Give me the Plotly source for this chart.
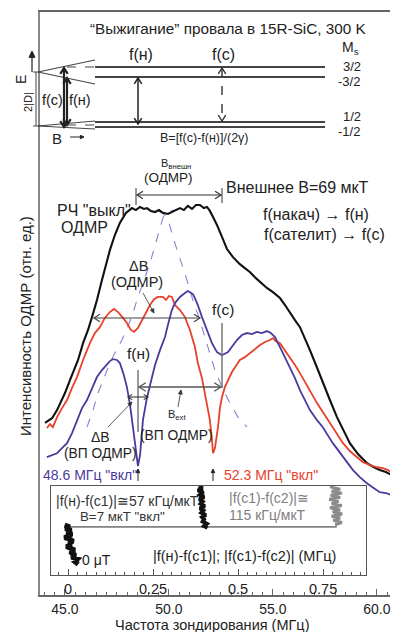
import math
import plotly.graph_objects as go

FONT = "Arial, Liberation Sans, sans-serif"

# ---------------- data (frequency in MHz, ODMR intensity in rel. units) ----------------
black_f = [44.04, 44.38, 44.62, 44.86, 45.00, 45.24, 45.38, 45.63, 45.87, 46.11, 46.30, 46.54, 46.78, 46.97,
           47.16, 47.40, 47.64, 47.93, 48.22, 48.41, 48.61, 48.80, 48.94, 49.13, 49.33, 49.52, 49.71, 49.95,
           50.14, 50.34, 50.53, 50.72, 50.91, 51.11, 51.30, 51.49, 51.68, 51.83, 51.97, 52.12, 52.31, 52.55,
           52.79, 53.08, 53.41, 53.65, 53.89, 54.18, 54.42, 54.71, 55.00, 55.34, 55.58, 55.82, 56.06, 56.30,
           56.54, 56.78, 57.07, 57.40, 57.74, 58.08, 58.37, 58.70, 59.09, 59.52, 59.86, 60.14, 60.43, 60.72]
black_i = [0.204, 0.221, 0.250, 0.286, 0.311, 0.357, 0.382, 0.429, 0.489, 0.536, 0.582, 0.643, 0.714, 0.768,
           0.821, 0.875, 0.918, 0.954, 0.971, 0.964, 0.975, 0.968, 0.971, 0.961, 0.957, 0.964, 0.954, 0.950,
           0.957, 0.964, 0.971, 0.964, 0.979, 0.968, 0.982, 0.982, 0.971, 0.975, 0.961, 0.939, 0.911, 0.868,
           0.825, 0.796, 0.771, 0.757, 0.743, 0.721, 0.704, 0.686, 0.671, 0.650, 0.625, 0.596, 0.571, 0.546,
           0.507, 0.464, 0.411, 0.346, 0.286, 0.225, 0.179, 0.132, 0.093, 0.061, 0.046, 0.036, 0.029, 0.018]

red_f = [44.13, 44.28, 44.42, 44.62, 44.86, 45.10, 45.34, 45.58, 45.87, 46.20, 46.44, 46.68, 46.92, 47.16,
         47.36, 47.55, 47.79, 47.98, 48.17, 48.32, 48.51, 48.70, 48.85, 49.09, 49.28, 49.47, 49.71, 49.86,
         50.00, 50.14, 50.29, 50.53, 50.77, 51.01, 51.25, 51.39, 51.59, 51.73, 51.88, 51.97, 52.07, 52.12,
         52.21, 52.36, 52.45, 52.55, 52.69, 52.84, 53.03, 53.22, 53.41, 53.65, 53.89, 54.14, 54.38, 54.62,
         54.86, 55.00, 55.14, 55.34, 55.58, 55.82, 56.06, 56.30, 56.54, 56.78, 57.12, 57.50, 57.88, 58.37,
         58.70, 59.04, 59.33, 59.66, 60.00, 60.29, 60.53, 60.72]
red_i = [0.186, 0.200, 0.189, 0.225, 0.257, 0.286, 0.329, 0.368, 0.429, 0.489, 0.525, 0.546, 0.579, 0.600,
         0.611, 0.600, 0.579, 0.561, 0.536, 0.529, 0.543, 0.571, 0.589, 0.625, 0.646, 0.654, 0.654, 0.643,
         0.657, 0.654, 0.625, 0.607, 0.582, 0.536, 0.475, 0.418, 0.364, 0.311, 0.257, 0.214, 0.143, 0.096,
         0.114, 0.189, 0.257, 0.296, 0.332, 0.357, 0.386, 0.407, 0.429, 0.439, 0.454, 0.468, 0.482, 0.493,
         0.500, 0.507, 0.496, 0.489, 0.464, 0.439, 0.411, 0.382, 0.350, 0.321, 0.275, 0.232, 0.189, 0.132,
         0.104, 0.082, 0.064, 0.054, 0.046, 0.043, 0.036, 0.025]

blue_f = [44.13, 44.38, 44.62, 44.86, 45.10, 45.34, 45.58, 45.82, 46.06, 46.30, 46.54, 46.78, 47.02, 47.16,
          47.31, 47.50, 47.64, 47.83, 47.98, 48.13, 48.27, 48.41, 48.51, 48.61, 48.75, 48.94, 49.09, 49.33,
          49.57, 49.81, 49.95, 50.14, 50.29, 50.53, 50.77, 50.91, 51.01, 51.15, 51.25, 51.39, 51.59, 51.83,
          52.07, 52.31, 52.55, 52.84, 53.03, 53.27, 53.51, 53.75, 54.00, 54.23, 54.47, 54.71, 54.90, 55.10,
          55.34, 55.58, 55.82, 56.06, 56.30, 56.54, 56.78, 57.12, 57.40, 57.88, 58.37, 58.85, 59.18, 59.52,
          59.86, 60.14, 60.43, 60.72]
blue_i = [0.082, 0.089, 0.096, 0.114, 0.132, 0.168, 0.214, 0.257, 0.286, 0.329, 0.368, 0.393, 0.411, 0.425,
          0.432, 0.429, 0.418, 0.375, 0.332, 0.268, 0.189, 0.107, 0.050, 0.089, 0.214, 0.293, 0.339, 0.411,
          0.464, 0.511, 0.554, 0.607, 0.632, 0.654, 0.668, 0.675, 0.671, 0.664, 0.650, 0.625, 0.582, 0.536,
          0.489, 0.457, 0.446, 0.457, 0.475, 0.500, 0.518, 0.525, 0.521, 0.529, 0.525, 0.532, 0.525, 0.511,
          0.475, 0.439, 0.404, 0.364, 0.321, 0.286, 0.250, 0.214, 0.189, 0.132, 0.082, 0.036, 0.011, -0.011,
          -0.029, -0.043, -0.046, -0.054]

# dashed guide halves (two partial ODMR components)
guide_left_f = [46.06, 46.35, 46.59, 46.88, 47.16, 47.45, 47.74, 48.03, 48.27, 48.46, 48.70, 48.89, 49.09,
                49.28, 49.42, 49.57, 49.71, 49.90, 50.10, 50.29]
guide_left_i = [0.189, 0.250, 0.311, 0.364, 0.418, 0.461, 0.500, 0.550, 0.596, 0.643, 0.689, 0.732, 0.775,
                0.825, 0.868, 0.904, 0.936, 0.954, 0.961, 0.964]
guide_right_f = [49.47, 49.66, 49.90, 50.05, 50.19, 50.38, 50.63, 50.82, 51.01, 51.20, 51.44, 51.63, 51.83,
                 52.02, 52.21, 52.55, 52.93, 53.32, 53.75]
guide_right_i = [0.961, 0.954, 0.939, 0.907, 0.868, 0.825, 0.775, 0.725, 0.679, 0.629, 0.582, 0.536, 0.489,
                 0.439, 0.393, 0.332, 0.275, 0.225, 0.189]

# inset: frequency differences (MHz) vs. time (rel.)
blob0_x = [-0.010, 0.005, -0.008, 0.010, -0.004, 0.012, 0.000, -0.010, 0.008, 0.015, 0.002, 0.010, -0.005,
           0.012, 0.020, 0.006, 0.014, 0.022, 0.010, 0.028, 0.020, 0.030]
blob0_y = [0.56, 0.54, 0.52, 0.50, 0.48, 0.46, 0.44, 0.42, 0.40, 0.38, 0.36, 0.34, 0.32, 0.30, 0.28, 0.26,
           0.24, 0.22, 0.20, 0.18, 0.15, 0.12]
blob1_x = [0.385, 0.395, 0.382, 0.398, 0.388, 0.400, 0.386, 0.396, 0.390, 0.402, 0.388, 0.398, 0.392,
           0.405, 0.394, 0.400, 0.396, 0.408, 0.400, 0.410]
blob1_y = [1.00, 0.975, 0.95, 0.925, 0.90, 0.875, 0.85, 0.825, 0.80, 0.775, 0.75, 0.725, 0.70, 0.675, 0.65,
           0.625, 0.60, 0.575, 0.55, 0.53]
blob2_x = [0.770, 0.800, 0.775, 0.805, 0.772, 0.800, 0.768, 0.795, 0.775, 0.805, 0.770, 0.800, 0.778,
           0.806, 0.775, 0.800, 0.780, 0.805, 0.785]
blob2_y = [0.99, 0.965, 0.94, 0.92, 0.895, 0.87, 0.85, 0.825, 0.80, 0.78, 0.755, 0.73, 0.71, 0.685, 0.66,
           0.64, 0.615, 0.59, 0.565]
step_x = [-0.01, 0.79]
step_y = [0.54, 0.54]

main_tick_vals = [45, 50, 55, 60]
main_tick_text = ["45.0", "50.0", "55.0", "60.0"]
inset_tick_vals = [0, 0.25, 0.5, 0.75]
inset_tick_text = ["0", "0.25", "0.5", "0.75"]

# ---------------- colors ----------------
C_BLACK = "#111111"
C_RED = "#e8402a"
C_BLUE = "#4b3a9e"
C_DASH = "#8a80d2"

# ---------------- layout geometry (pixel helpers for decorations) ----------------
W, H = 401, 632
ML, MR, MT, MB = 40, 11, 12, 37
PW, PH = W - ML - MR, H - MT - MB


def px(x):
    return (x - ML) / PW


def py(y):
    return (H - MB - y) / PH


shapes = []
annotations = []


def seg(x0, y0, x1, y1, color="#333", w=1.2, dash="solid"):
    shapes.append(dict(type="line", xref="paper", yref="paper", x0=px(x0), y0=py(y0), x1=px(x1), y1=py(y1),
                       line=dict(color=color, width=w, dash=dash)))


def head(tx, ty, fx, fy, color="#333", w=1.2, L=6.0, ang=32, filled=False):
    dx, dy = fx - tx, fy - ty
    n = math.hypot(dx, dy)
    dx, dy = dx / n, dy / n
    pts = []
    for s in (1, -1):
        a = math.radians(ang) * s
        rx = dx * math.cos(a) - dy * math.sin(a)
        ry = dx * math.sin(a) + dy * math.cos(a)
        pts.append((tx + rx * L, ty + ry * L))
    path = "M %f,%f L %f,%f L %f,%f" % (px(pts[0][0]), py(pts[0][1]), px(tx), py(ty), px(pts[1][0]), py(pts[1][1]))
    if filled:
        path += " Z"
    shapes.append(dict(type="path", xref="paper", yref="paper", path=path,
                       line=dict(color=color, width=w),
                       fillcolor=color if filled else "rgba(0,0,0,0)"))


def darrow(x0, y0, x1, y1, color="#333", w=1.2, dash="solid", L=6.0):
    seg(x0, y0, x1, y1, color, w, dash)
    head(x0, y0, x1, y1, color, w, L)
    head(x1, y1, x0, y0, color, w, L)


def pointer(x0, y0, x1, y1, color="#333", w=0.8, L=4.5):
    seg(x0, y0, x1, y1, color, w)
    head(x1, y1, x0, y0, color, w, L, ang=25, filled=True)


def ann(text, x, y, size=15, color="#222", xanchor="center", angle=0):
    annotations.append(dict(text=text, x=px(x), y=py(y), xref="paper", yref="paper", showarrow=False,
                            font=dict(size=size, color=color, family=FONT), xanchor=xanchor,
                            yanchor="middle", textangle=angle))


# ---------------- traces ----------------
fig = go.Figure()
fig.add_trace(go.Scatter(x=guide_left_f, y=guide_left_i, mode="lines",
                         line=dict(color=C_DASH, width=1.1, dash="dash"), showlegend=False))
fig.add_trace(go.Scatter(x=guide_right_f, y=guide_right_i, mode="lines",
                         line=dict(color=C_DASH, width=1.1, dash="dash"), showlegend=False))
fig.add_trace(go.Scatter(x=black_f, y=black_i, mode="lines", line=dict(color=C_BLACK, width=2.1), showlegend=False))
fig.add_trace(go.Scatter(x=red_f, y=red_i, mode="lines", line=dict(color=C_RED, width=1.8), showlegend=False))
fig.add_trace(go.Scatter(x=blue_f, y=blue_i, mode="lines", line=dict(color=C_BLUE, width=1.8), showlegend=False))

# inset
fig.add_trace(go.Scatter(x=step_x, y=step_y, xaxis="x2", yaxis="y2", mode="lines",
                         line=dict(color="#222", width=1), showlegend=False))
fig.add_trace(go.Scatter(x=blob0_x, y=blob0_y, xaxis="x2", yaxis="y2", mode="lines",
                         line=dict(color="#111", width=5), showlegend=False))
fig.add_trace(go.Scatter(x=blob1_x, y=blob1_y, xaxis="x2", yaxis="y2", mode="lines",
                         line=dict(color="#111", width=4), showlegend=False))
fig.add_trace(go.Scatter(x=blob2_x, y=blob2_y, xaxis="x2", yaxis="y2", mode="lines",
                         line=dict(color="#8c8c8c", width=3), showlegend=False))

shapes.append(dict(type="rect", xref="x2 domain", yref="y2 domain", x0=0, x1=1, y0=0, y1=1,
                   fillcolor="#e6e6e6", line=dict(width=0), layer="below"))

# ---------------- energy level diagram ----------------
LC = "#444"
for yy in (67, 77, 122, 127):
    seg(95, yy, 325, yy, LC, 2)
seg(67, 67, 95, 67, LC, 1.2, "dash")
seg(67, 125, 95, 125, LC, 1.2, "dash")
seg(38, 72, 95, 60, LC, 1.2)
seg(38, 72, 95, 84, LC, 1.2)
seg(38, 126, 95, 121, LC, 1.2)
seg(38, 126, 95, 129, LC, 1.2)
seg(36, 72, 36, 126, LC, 1)
seg(33, 72, 40, 72, LC, 1)
seg(33, 126, 40, 126, LC, 1)
seg(32, 72, 32, 57, "#222", 1.2)
head(32, 51, 32, 60, "#222", 1, 7, 25, filled=True)
darrow(64, 68, 64, 127, "#222", 2.2, L=7)
darrow(67, 78, 67, 125, "#222", 2.2, L=7)
darrow(138, 78, 138, 124, "#222", 1.5, L=7)
darrow(222, 68, 222, 121, "#333", 1.4, "dash", L=7)
seg(70, 137, 82, 137, "#222", 1)
head(84, 137, 78, 137, "#222", 1, 4, 25, filled=True)

ann("“Выжигание” провала в 15R-SiC, 300 K", 228, 28, 15.3)
ann("f(н)", 141, 54, 16)
ann("f(c)", 223, 54, 16)
ann("M<sub>s</sub>", 350, 48, 14)
ann("3/2", 352, 66.5, 13)
ann("-3/2", 349, 82, 13)
ann("1/2", 352, 116, 13)
ann("-1/2", 349, 131.5, 13)
ann("f(c)", 52, 100, 14.5)
ann("f(н)", 80, 100, 14.5)
ann("2|D|", 28, 102, 11, angle=-90)
ann("E", 21, 80, 14, angle=-90)
ann("B", 57, 138, 15)
ann("B=[f(c)-f(н)]/(2γ)", 204, 138, 12.5)

# ---------------- spectrum annotations ----------------
ann("B<sub>внешн</sub>", 176, 164, 11)
ann("(ОДМР)", 168, 178, 13.5)
seg(136, 188, 136, 205, "#333", 1)
seg(222, 188, 222, 203, "#333", 1)
darrow(137, 195, 221, 195, "#333", 1.2, L=7)
ann("Внешнее B=69 мкТ", 297, 187, 16)
ann("f(накач) → f(н)", 316, 215, 16)
ann("f(сателит) → f(c)", 324, 234, 16)
ann("РЧ \"выкл\"", 94, 211, 16)
ann("ОДМР", 84, 227, 16)
ann("ΔB", 138, 266, 14.5)
ann("(ОДМР)", 137, 282, 14.5)
pointer(143, 293, 154, 313, "#333")
darrow(94, 318, 200, 318, "#444", 1.2, L=7)
ann("f(c)", 223, 309, 15.5)
seg(222, 323, 222, 388, "#777", 1.5)
ann("f(н)", 138, 353, 15.5)
seg(138, 370, 138, 432, "#777", 1.5)
darrow(139, 387, 221, 387, "#555", 1.3, L=8)
darrow(128, 397, 148, 397, "#333", 1.1, L=5)
ann("B<sub>ext</sub>", 177, 415, 11)
pointer(178, 407, 181, 390, "#333")
ann("(ВП ОДМР)", 176, 435, 13.8)
ann("ΔB", 100, 437, 14)
ann("(ВП ОДМР)", 100, 453, 13.8)
pointer(108, 427, 132, 402, "#333")
ann("48.6 МГц \"вкл\"", 90, 475, 14, C_BLUE)
seg(138, 481, 138, 472, "#222", 1)
head(138, 469, 138, 474, "#222", 1, 4, 25, filled=True)
ann("52.3 МГц \"вкл\"", 222, 475, 14, C_RED, xanchor="left")
seg(213, 481, 213, 472, "#222", 1)
head(213, 469, 213, 474, "#222", 1, 4, 25, filled=True)

# inset texts
ann("|f(н)-f(c1)|≅57 кГц/мкТ", 127, 501, 14, "#333")
ann("B=7 мкТ \"вкл\"", 122, 516, 13.3, "#333")
ann("|f(c1)-f(c2)|≅", 227, 498, 14, "#808080", xanchor="left")
ann("115 кГц/мкТ", 227, 515, 14, "#808080", xanchor="left")
ann("0 μT", 96, 560, 14, "#222")
ann("|f(н)-f(c1)|; |f(c1)-f(c2)| (МГц)", 244, 556, 14.5, "#222")

# axis titles
ann("Интенсивность ОДМР (отн. ед.)", 25, 326, 15, angle=-90)
ann("Частота зондирования (МГц)", 212, 624.5, 14.5)

fig.update_layout(
    width=W, height=H, autosize=False,
    margin=dict(l=ML, r=MR, t=MT, b=MB, pad=0),
    paper_bgcolor="white", plot_bgcolor="white",
    font=dict(family=FONT, size=14, color="#222"),
    showlegend=False,
    xaxis=dict(domain=[0, 1], anchor="y", range=[43.8, 60.63], showline=True, linecolor="#666", linewidth=1.5,
               mirror=True, ticks="inside", ticklen=6, tickcolor="#666", tickmode="array",
               tickvals=main_tick_vals, ticktext=main_tick_text, tickfont=dict(size=14, color="#222"),
               showgrid=False, zeroline=False,
               minor=dict(dtick=0.5, tick0=45, ticks="inside", ticklen=3, tickcolor="#666", showgrid=False)),
    yaxis=dict(domain=[0, 1], anchor="x", range=[-0.41, 1.671], showline=True, linecolor="#888", linewidth=1.5,
               ticks="", showticklabels=False, showgrid=False, zeroline=False),
    xaxis2=dict(domain=[px(51), px(366)], anchor="y2", range=[-0.05, 0.876], showline=True, linecolor="#555",
                linewidth=1.2, mirror=True, ticks="inside", ticklen=6, tickcolor="#555", tickmode="array",
                tickvals=inset_tick_vals, ticktext=inset_tick_text, tickfont=dict(size=14.5, color="#222"),
                showgrid=False, zeroline=False,
                minor=dict(dtick=0.25 / 9, tick0=0, ticks="inside", ticklen=3, tickcolor="#555", showgrid=False)),
    yaxis2=dict(domain=[py(575), py(486)], anchor="x2", range=[0, 1], showline=True, linecolor="#555",
                linewidth=1.2, mirror=True, ticks="", showticklabels=False, showgrid=False, zeroline=False),
    shapes=shapes,
    annotations=annotations,
)

fig.write_html("out.html")
